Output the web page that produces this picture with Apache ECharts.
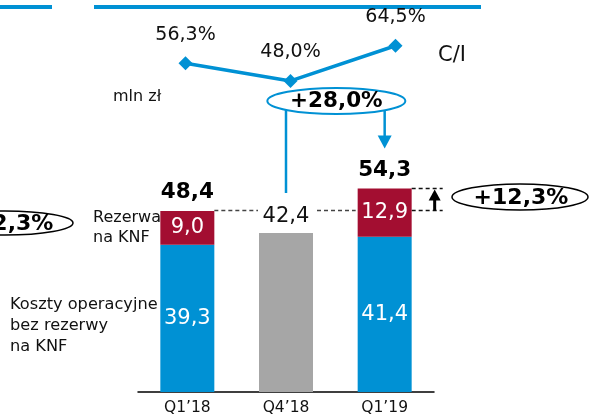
<!DOCTYPE html>
<html>
<head>
<meta charset="utf-8">
<script src="https://cdn.jsdelivr.net/npm/echarts@6/dist/echarts.min.js"></script>
<style>
  html, body { margin: 0; padding: 0; background: #fff; }
  #chart { width: 593px; height: 418px; }
</style>
</head>
<body>
<div id="chart"></div>
<script>
// dane (mln zł, C/I w %)
const categories = ['Q1’18', 'Q4’18', 'Q1’19'];
const kosztyBezRezerwy = [39.3, 42.4, 41.4];
const rezerwaKnf = [9.0, null, 12.9];
const razem = [48.4, null, 54.3];
const wskaznikCI = [56.3, 48.0, 64.5];
const zmianaKw = '+28,0%';
const zmianaRdr = '+12,3%';

const BLUE = '#0091d4';
const RED = '#a30e31';
const GREY = '#a6a6a6';
const TXT = '#111';
const FONT = 'DejaVu Sans';

const fmt = (v) => v.toFixed(1).replace('.', ',');

const chart = echarts.init(document.getElementById('chart'));

chart.setOption({
  animation: false,
  textStyle: { fontFamily: FONT },
  grid: [
    { left: 138, right: 159, top: 17, bottom: 26 },   // slupki
    { left: 133, right: 145, top: 34, bottom: 320 }   // C/I
  ],
  xAxis: [
    {
      type: 'category', gridIndex: 0, data: categories,
      axisLine: { lineStyle: { color: '#000', width: 1.5 } },
      axisTick: { show: false },
      axisLabel: { color: TXT, fontSize: 15.5, margin: 8, fontFamily: FONT }
    },
    { type: 'category', gridIndex: 1, data: categories, show: false }
  ],
  yAxis: [
    { type: 'value', gridIndex: 0, min: 0, max: 100, show: false },
    { type: 'value', gridIndex: 1, min: 40, max: 70, show: false }
  ],
  series: [
    {
      name: 'Koszty operacyjne bez rezerwy na KNF',
      type: 'bar', stack: 'k', barWidth: 54,
      itemStyle: { color: BLUE },
      label: {
        show: true, position: 'inside', color: '#fff', fontSize: 21,
        formatter: (p) => fmt(p.value)
      },
      data: kosztyBezRezerwy.map((v, i) => i === 1 ? {
        value: v,
        itemStyle: { color: GREY },
        label: { position: 'top', distance: 6, color: TXT }
      } : v)
    },
    {
      name: 'Rezerwa na KNF',
      type: 'bar', stack: 'k', barWidth: 54,
      itemStyle: { color: RED },
      label: {
        show: true, position: 'inside', color: '#fff', fontSize: 21,
        formatter: (p) => fmt(p.value)
      },
      data: rezerwaKnf
    },
    {
      name: 'Razem',
      type: 'scatter', xAxisIndex: 0, yAxisIndex: 0,
      symbolSize: 0,
      itemStyle: { opacity: 1 },
      label: {
        show: true, position: 'top', distance: 7, color: '#000',
        fontSize: 21.5, fontWeight: 'bold',
        formatter: (p) => fmt(p.value[1])
      },
      data: razem.map((v, i) => v == null ? null : [i, v])
    },
    {
      name: 'C/I',
      type: 'line', xAxisIndex: 1, yAxisIndex: 1,
      symbol: 'diamond', symbolSize: 14,
      itemStyle: { color: BLUE },
      lineStyle: { color: BLUE, width: 3.5 },
      label: {
        show: true, position: 'top', distance: 12, color: TXT, fontSize: 19,
        formatter: (p) => fmt(p.value) + '%'
      },
      data: wskaznikCI
    }
  ]
});

// adnotacje liczone z osi
function px(i, v) {
  return chart.convertToPixel({ xAxisIndex: 0, yAxisIndex: 0 }, [i, v]);
}
const half = 27;
const a = px(0, razem[0]);
const b = px(1, kosztyBezRezerwy[1]);
const c = px(2, razem[2]);
const c0 = px(2, razem[0]);
const dashed = { stroke: '#444', lineWidth: 1.5, lineDash: [4, 3] };

const txt = (text, x, y, size, extra) => ({
  type: 'text', z: 10,
  style: Object.assign({
    text: text, x: x, y: y, fill: TXT,
    font: (extra && extra.bold ? 'bold ' : '') + size + 'px ' + FONT,
    textAlign: 'left', textVerticalAlign: 'middle'
  }, extra && extra.style)
});

const ellCx = (b[0] + c[0]) / 2 + 1;
const ellCy = 101;

chart.setOption({
  graphic: [
    // paski u gory
    { type: 'rect', shape: { x: 0, y: 5, width: 52, height: 4 }, style: { fill: BLUE } },
    { type: 'rect', shape: { x: 94, y: 5, width: 387, height: 4 }, style: { fill: BLUE } },

    // linie przerywane
    { type: 'line', shape: { x1: a[0] + half, y1: a[1], x2: b[0] - 28, y2: a[1] }, style: dashed },
    { type: 'line', shape: { x1: b[0] + 31, y1: a[1], x2: c[0] - half - 2, y2: a[1] }, style: dashed },
    { type: 'line', shape: { x1: c[0] + half, y1: c0[1], x2: c[0] + 58, y2: c0[1] }, style: Object.assign({}, dashed, { stroke: '#111' }) },
    { type: 'line', shape: { x1: c[0] + half, y1: c[1], x2: c[0] + 58, y2: c[1] }, style: Object.assign({}, dashed, { stroke: '#111' }) },
    // strzalka w gore
    { type: 'line', shape: { x1: c[0] + 50, y1: c0[1], x2: c[0] + 50, y2: c[1] + 10 }, style: { stroke: '#000', lineWidth: 3 } },
    { type: 'polygon', shape: { points: [[c[0] + 50, c[1] + 1], [c[0] + 44, c[1] + 12], [c[0] + 56, c[1] + 12]] }, style: { fill: '#000' } },

    // polaczenia z elipsa +28,0%
    { type: 'line', shape: { x1: b[0], y1: ellCy, x2: b[0], y2: b[1] - 40 }, style: { stroke: BLUE, lineWidth: 2.5 } },
    { type: 'line', shape: { x1: c[0], y1: ellCy, x2: c[0], y2: c[1] - 50 }, style: { stroke: BLUE, lineWidth: 2.5 } },
    { type: 'polygon', shape: { points: [[c[0], c[1] - 40], [c[0] - 7, c[1] - 53], [c[0] + 7, c[1] - 53]] }, style: { fill: BLUE } },
    { type: 'ellipse', z: 1, shape: { cx: ellCx, cy: ellCy, rx: 69, ry: 13 }, style: { fill: '#fff', stroke: BLUE, lineWidth: 2 } },
    txt(zmianaKw, ellCx, ellCy, 21.5, { bold: true, style: { textAlign: 'center', fill: '#000' } }),

    // elipsy +12,3%
    { type: 'ellipse', shape: { cx: 520, cy: 197, rx: 68, ry: 13 }, style: { fill: '#fff', stroke: '#000', lineWidth: 1.5 } },
    txt(zmianaRdr, 521, 198, 22, { bold: true, style: { textAlign: 'center', fill: '#000' } }),
    { type: 'ellipse', shape: { cx: 5, cy: 223, rx: 68, ry: 12 }, style: { fill: '#fff', stroke: '#000', lineWidth: 1.5 } },
    txt(zmianaRdr, 6, 224, 22, { bold: true, style: { textAlign: 'center', fill: '#000' } }),

    // opisy
    txt('mln zł', 113, 97, 16),
    txt('C/I', 438, 56, 21),
    txt('Rezerwa', 93, 218, 16),
    txt('na KNF', 93, 238, 16),
    txt('Koszty operacyjne', 10, 305, 16.2),
    txt('bez rezerwy', 10, 326, 16.2),
    txt('na KNF', 10, 347, 16.2)
  ]
});
</script>
</body>
</html>
